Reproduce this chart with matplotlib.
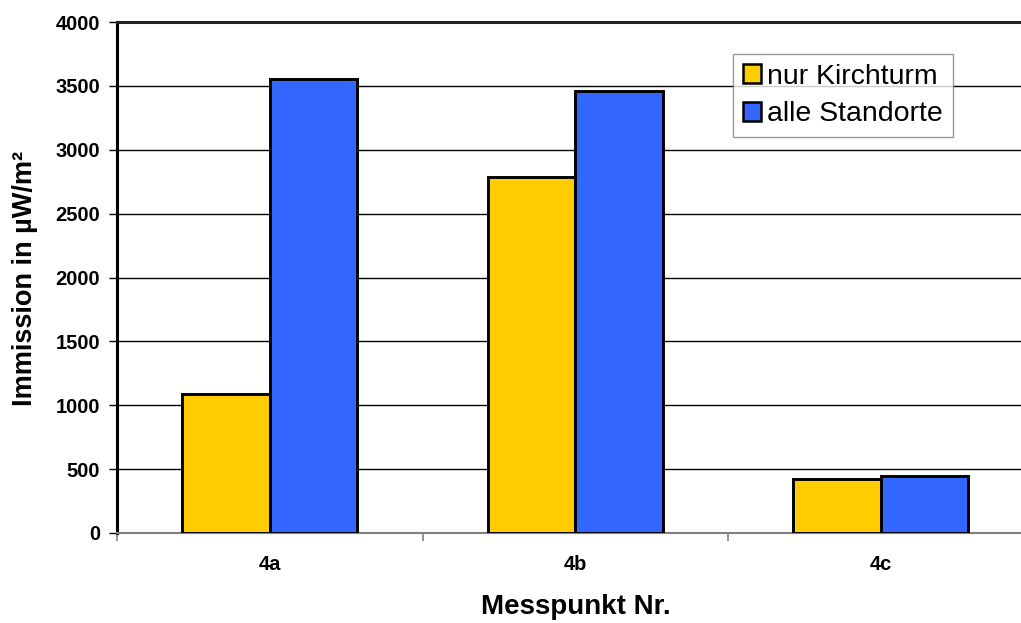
import numpy as np
import matplotlib.pyplot as plt
from matplotlib.patches import Patch

plt.rcParams['font.family'] = ['Liberation Sans', 'DejaVu Sans']

# Data
messpunkte = ['4a', '4b', '4c']
nur_kirchturm = [1090, 2785, 420]
alle_standorte = [3555, 3460, 446]
series_names = ['nur Kirchturm', 'alle Standorte']

yellow = '#FFCC00'
blue = '#3366FF'

fig = plt.figure(figsize=(10.21, 6.23), dpi=100)
ax = fig.add_axes([117 / 1021, 1 - 533 / 623, (1033.5 - 117) / 1021, (533 - 22) / 623])

x = np.arange(len(messpunkte))
w = 1 / 3.5
ax.bar(x - w / 2, nur_kirchturm, w, color=yellow, edgecolor='black', linewidth=2.1, zorder=3)
ax.bar(x + w / 2, alle_standorte, w, color=blue, edgecolor='black', linewidth=2.1, zorder=3)

ax.set_xlim(-0.5, len(messpunkte) - 0.5)
ax.set_ylim(0, 4000)
ax.set_yticks(np.arange(0, 4001, 500))
ax.yaxis.grid(True, color='black', linewidth=1.0, zorder=0)

# category labels without marks, marks between categories
ax.set_xticks(x)
ax.set_xticklabels(messpunkte, fontsize=14.5, fontweight='bold')
ax.tick_params(axis='x', which='major', length=0, pad=16)
ax.set_xticks(np.arange(-0.5, len(messpunkte)), minor=True)
ax.tick_params(axis='x', which='minor', length=6, color='#808080', width=1.2, direction='out')

ax.tick_params(axis='y', length=6, width=1.0, color='black', labelsize=14.5, pad=6)
for lab in ax.get_yticklabels():
    lab.set_fontweight('bold')

ax.spines['left'].set_linewidth(2.2)
ax.spines['top'].set_linewidth(2.2)
ax.spines['top'].set_color('#222222')
ax.spines['bottom'].set_color('#808080')
ax.spines['bottom'].set_linewidth(1.5)
ax.spines['right'].set_visible(False)

ax.set_xlabel('Messpunkt Nr.', fontsize=20, fontweight='bold')
ax.xaxis.set_label_coords((575.5 - 117) / 916.5, (533 - 594) / 511)
ax.set_ylabel('Immission in µW/m²', fontsize=19.5, fontweight='bold')
ax.yaxis.set_label_coords((38 - 117) / 916.5, (533 - 278) / 511)

handles = [Patch(facecolor=yellow, edgecolor='black', linewidth=1.8),
           Patch(facecolor=blue, edgecolor='black', linewidth=1.8)]
leg = fig.legend(handles, series_names, loc='upper left',
                 bbox_to_anchor=(733 / 1021, 1 - 54 / 623), borderaxespad=0,
                 fontsize=20.5, frameon=True, fancybox=False, shadow=False,
                 handlelength=0.65, handleheight=0.65, handletextpad=0.2,
                 borderpad=0.35, labelspacing=0.4)
leg.get_frame().set_edgecolor('#808080')
leg.get_frame().set_linewidth(1.0)

fig.savefig('out.png', dpi=100)
